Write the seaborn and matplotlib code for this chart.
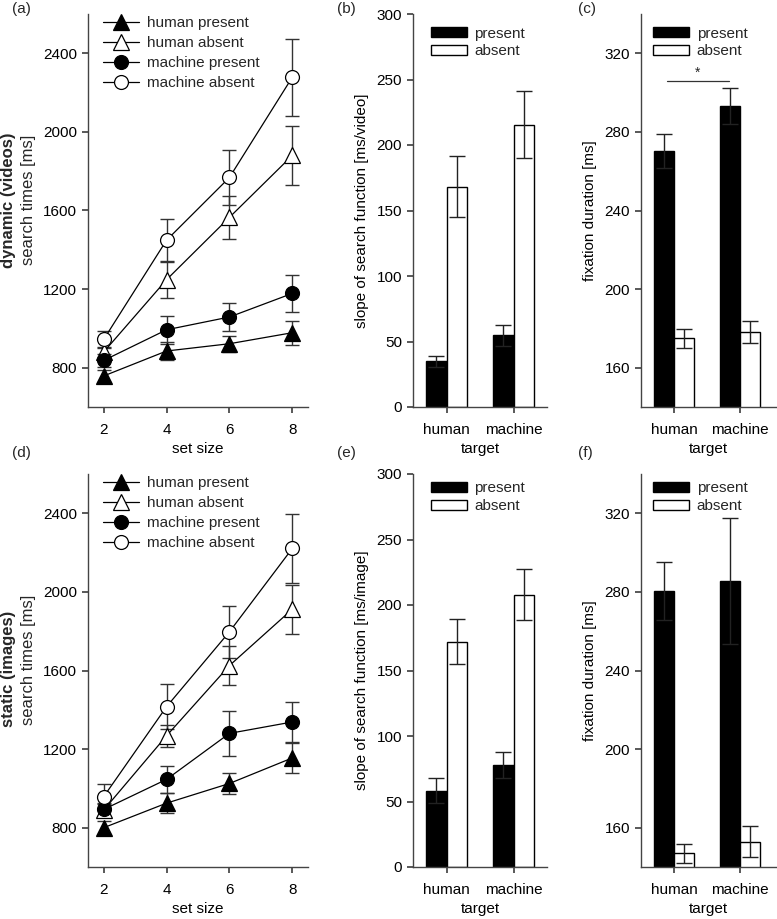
import matplotlib
matplotlib.use("Agg")
import matplotlib.pyplot as plt
import numpy as np
import pandas as pd
import seaborn as sns
from matplotlib.patches import Patch
from matplotlib.lines import Line2D

# ---- data -----------------------------------------------------------------
set_sizes = [2, 4, 6, 8]
series_names = ["human present", "human absent", "machine present", "machine absent"]

# (a) dynamic (videos) search times [ms]
dyn_means = {
    "human present": [758, 885, 922, 978],
    "human absent": [880, 1248, 1565, 1880],
    "machine present": [837, 993, 1058, 1178],
    "machine absent": [944, 1449, 1768, 2278],
}
dyn_err = {
    "human present": [30, 48, 40, 62],
    "human absent": [25, 93, 108, 150],
    "machine present": [35, 70, 72, 95],
    "machine absent": [45, 110, 142, 195],
}

# (d) static (images) search times [ms]
sta_means = {
    "human present": [800, 925, 1025, 1155],
    "human absent": [890, 1268, 1625, 1912],
    "machine present": [893, 1046, 1280, 1338],
    "machine absent": [958, 1416, 1797, 2221],
}
sta_err = {
    "human present": [36, 50, 55, 75],
    "human absent": [30, 55, 98, 125],
    "machine present": [35, 68, 113, 100],
    "machine absent": [65, 115, 132, 175],
}

targets = ["human", "machine"]
conditions = ["present", "absent"]

# (b) slope [ms/video], (e) slope [ms/image]
slope_dyn = {"present": [34.8, 54.7], "absent": [168.3, 215.6]}
slope_dyn_err = {"present": [4.4, 8.0], "absent": [23.0, 25.7]}
slope_sta = {"present": [58.2, 78.1], "absent": [172.1, 208.0]}
slope_sta_err = {"present": [9.7, 10.0], "absent": [17.5, 19.3]}

# (c) / (f) fixation duration [ms]
fix_dyn = {"present": [270.3, 293.2], "absent": [174.9, 178.2]}
fix_dyn_err = {"present": [8.8, 9.0], "absent": [5.0, 5.8]}
fix_sta = {"present": [280.5, 285.4], "absent": [146.9, 152.9]}
fix_sta_err = {"present": [14.8, 32.0], "absent": [5.0, 8.0]}

# ---- style ------------------------------------------------------------------
FS = 11
sns.set_theme(style="ticks")
plt.rcParams["font.family"] = ["Liberation Sans", "DejaVu Sans"]
plt.rcParams.update({
    "font.size": FS,
    "axes.labelsize": FS,
    "xtick.labelsize": FS,
    "ytick.labelsize": FS,
    "axes.edgecolor": "#444444",
    "axes.linewidth": 1.0,
    "xtick.color": "#444444",
    "ytick.color": "#444444",
    "xtick.labelcolor": "black",
    "ytick.labelcolor": "black",
    "xtick.major.size": 4.5,
    "ytick.major.size": 4.5,
    "xtick.major.pad": 7,
    "ytick.major.pad": 3.5,
    "axes.labelcolor": "black",
})

markers = {
    "human present": ("^", "black"),
    "human absent": ("^", "white"),
    "machine present": ("o", "black"),
    "machine absent": ("o", "white"),
}

fig = plt.figure(figsize=(7.77, 9.19), dpi=100)
W, H = 777.0, 919.0


def add_ax(left, top, right, bottom):
    return fig.add_axes([left / W, 1 - bottom / H, (right - left) / W, (bottom - top) / H])


def line_panel(ax, means, errs, bold, normal, ybold, ynorm):
    rows = []
    for s in series_names:
        for x, m in zip(set_sizes, means[s]):
            rows.append({"set size": x, "rt": m, "series": s})
    df = pd.DataFrame(rows)
    handles = []
    for s in series_names:
        mk, fc = markers[s]
        ms = 10 if mk == "o" else 11
        sub = df[df["series"] == s]
        ax.errorbar(set_sizes, means[s], yerr=errs[s], fmt="none", ecolor="#333333",
                    elinewidth=1.0, capsize=4.8, capthick=1.0, zorder=2)
        sns.lineplot(data=sub, x="set size", y="rt", ax=ax, color="black", linewidth=0.9,
                     marker=mk, markersize=ms,
                     markerfacecolor=fc, markeredgecolor="black", markeredgewidth=0.9,
                     zorder=3, legend=False)
        handles.append(Line2D([], [], color="black", linewidth=0.9, marker=mk,
                              markersize=ms, markerfacecolor=fc,
                              markeredgecolor="black", markeredgewidth=0.9))
    ax.legend(handles, series_names, loc="upper left", bbox_to_anchor=(0.068, 0.995),
              frameon=False, borderpad=0, borderaxespad=0, handlelength=2.35,
              labelspacing=0.4, handletextpad=0.5, fontsize=FS)
    ax.set_xlim(1.5, 8.5)
    ax.set_ylim(600, 2600)
    ax.set_xticks(set_sizes)
    ax.set_yticks([800, 1200, 1600, 2000, 2400])
    ax.set_xlabel("set size", labelpad=3.5)
    ax.set_ylabel("")
    ax.text(-0.36, ybold, bold, transform=ax.transAxes, rotation=90, ha="center",
            va="center", fontweight="bold", fontsize=12)
    ax.text(-0.272, ynorm, normal, transform=ax.transAxes, rotation=90, ha="center",
            va="center", fontsize=12)
    sns.despine(ax=ax)


def bar_panel(ax, vals, errs, ylim, yticks, ylabel, xlim, leg_anchor):
    rows = []
    for c in conditions:
        for t, v in zip(targets, vals[c]):
            rows.append({"target": t, "value": v, "condition": c})
    df = pd.DataFrame(rows)
    sns.barplot(data=df, x="target", y="value", hue="condition", order=targets,
                hue_order=conditions, palette=["black", "white"], edgecolor="black",
                linewidth=1.0, width=0.6, errorbar=None, legend=False, ax=ax, zorder=2)
    for i, c in enumerate(conditions):
        xs = np.arange(len(targets)) + (-0.15 if i == 0 else 0.15)
        ax.errorbar(xs, vals[c], yerr=errs[c], fmt="none", ecolor="#222222",
                    elinewidth=1.0, capsize=5.5, capthick=1.0, zorder=3)
    handles = [Patch(facecolor="black", edgecolor="black"),
               Patch(facecolor="white", edgecolor="black")]
    ax.legend(handles, conditions, loc="upper left", bbox_to_anchor=leg_anchor,
              frameon=False, borderpad=0, borderaxespad=0, handlelength=2.35,
              handleheight=0.65, labelspacing=0.25, handletextpad=0.5, fontsize=FS)
    ax.set_xlim(*xlim)
    ax.set_ylim(*ylim)
    ax.set_yticks(yticks)
    ax.set_xlabel("target", labelpad=3.5)
    ax.set_ylabel(ylabel, labelpad=5)
    sns.despine(ax=ax)


# top row
ax_a = add_ax(88, 14, 308, 407)
ax_b = add_ax(413, 14, 547, 407)
ax_c = add_ax(641, 14, 776, 407)
# bottom row
ax_d = add_ax(88, 474, 308, 867)
ax_e = add_ax(413, 474, 547, 867)
ax_f = add_ax(641, 474, 776, 867)

line_panel(ax_a, dyn_means, dyn_err, "dynamic (videos)", "search times [ms]", 0.527, 0.527)
line_panel(ax_d, sta_means, sta_err, "static (images)", "search times [ms]", 0.504, 0.527)

bar_panel(ax_b, slope_dyn, slope_dyn_err, (0, 300), [0, 50, 100, 150, 200, 250, 300],
          "slope of search function [ms/video]", (-0.5, 1.5), (0.134, 0.968))
bar_panel(ax_e, slope_sta, slope_sta_err, (0, 300), [0, 50, 100, 150, 200, 250, 300],
          "slope of search function [ms/image]", (-0.5, 1.5), (0.134, 0.981))
bar_panel(ax_c, fix_dyn, fix_dyn_err, (140, 340), [160, 200, 240, 280, 320],
          "fixation duration [ms]", (-0.5, 1.55), (0.089, 0.968))
bar_panel(ax_f, fix_sta, fix_sta_err, (140, 340), [160, 200, 240, 280, 320],
          "fixation duration [ms]", (-0.5, 1.55), (0.089, 0.981))

# significance marker in (c)
ax_c.plot([-0.1, 0.83], [306, 306], color="#333333", linewidth=0.9, zorder=4)
ax_c.text(0.36, 310, "*", ha="center", va="center", fontsize=10)

# panel letters
for lab, (x, y) in {"(a)": (12, 9), "(b)": (337, 9), "(c)": (578, 9),
                    "(d)": (12, 453), "(e)": (337, 453), "(f)": (578, 453)}.items():
    fig.text(x / W, 1 - y / H, lab, ha="left", va="center", fontsize=FS)

fig.savefig("out.png", dpi=100)
